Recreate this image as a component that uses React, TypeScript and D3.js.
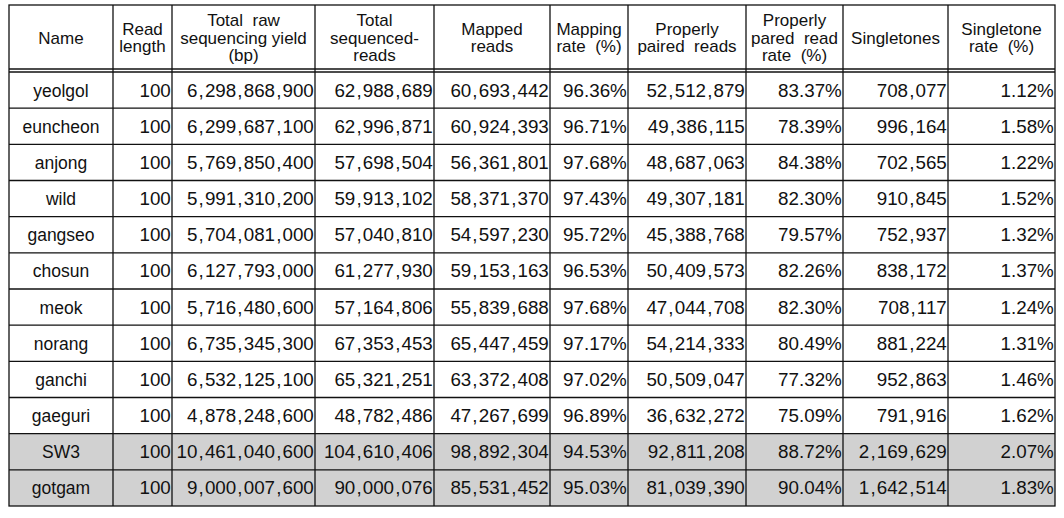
import React from "react";
import * as d3 from "d3";

const headers: string[][] = [
  ["Name"],
  ["Read", "length"],
  ["Total  raw", "sequencing yield", "(bp)"],
  ["Total", "sequenced-", "reads"],
  ["Mapped", "reads"],
  ["Mapping", "rate  (%)"],
  ["Properly", "paired  reads"],
  ["Properly", "pared  read", "rate  (%)"],
  ["Singletones"],
  ["Singletone", "rate  (%)"],
];

const names = ["yeolgol", "euncheon", "anjong", "wild", "gangseo", "chosun", "meok", "norang", "ganchi", "gaeguri", "SW3", "gotgam"];
const readLength = [100, 100, 100, 100, 100, 100, 100, 100, 100, 100, 100, 100];
const rawYield = [6298868900, 6299687100, 5769850400, 5991310200, 5704081000, 6127793000, 5716480600, 6735345300, 6532125100, 4878248600, 10461040600, 9000007600];
const totalReads = [62988689, 62996871, 57698504, 59913102, 57040810, 61277930, 57164806, 67353453, 65321251, 48782486, 104610406, 90000076];
const mappedReads = [60693442, 60924393, 56361801, 58371370, 54597230, 59153163, 55839688, 65447459, 63372408, 47267699, 98892304, 85531452];
const mappingRate = [96.36, 96.71, 97.68, 97.43, 95.72, 96.53, 97.68, 97.17, 97.02, 96.89, 94.53, 95.03];
const properlyPaired = [52512879, 49386115, 48687063, 49307181, 45388768, 50409573, 47044708, 54214333, 50509047, 36632272, 92811208, 81039390];
const properlyPairedRate = [83.37, 78.39, 84.38, 82.30, 79.57, 82.26, 82.30, 80.49, 77.32, 75.09, 88.72, 90.04];
const singletons = [708077, 996164, 702565, 910845, 752937, 838172, 708117, 881224, 952863, 791916, 2169629, 1642514];
const singletonRate = [1.12, 1.58, 1.22, 1.52, 1.32, 1.37, 1.24, 1.31, 1.46, 1.62, 2.07, 1.83];
const highlighted = ["SW3", "gotgam"];

const colEdges = [9, 113, 172, 315, 434, 550, 628, 746, 843, 948, 1055];
const TOP = 5;
const HEADER_BOTTOM = 69;
const BODY_TOP = 72;
const BOTTOM = 506;
const FONT = "'Liberation Sans', Arial, sans-serif";

const fmtInt = d3.format(",");
const fmtPct = (v: number) => d3.format(".2f")(v) + "%";

function NumText({ x, y, s }: { x: number; y: number; s: string }) {
  const parts: React.ReactNode[] = [];
  let buf = "";
  let pendingDx = 0;
  let key = 0;
  const flush = () => {
    if (buf) {
      parts.push(
        <tspan key={key++} dx={pendingDx || undefined}>
          {buf}
        </tspan>
      );
      buf = "";
      pendingDx = 0;
    }
  };
  for (const ch of s) {
    if (ch === ",") {
      flush();
      parts.push(
        <tspan key={key++} dx={1.1}>
          ,
        </tspan>
      );
      pendingDx = 1.1;
    } else {
      buf += ch;
    }
  }
  flush();
  return (
    <text x={x} y={y} textAnchor="end" fontFamily={FONT} fontSize={18.8} fill="#111">
      {parts}
    </text>
  );
}

export default function App() {
  const rowScale = d3.scaleBand<string>().domain(names).range([BODY_TOP, BOTTOM]);
  const bw = rowScale.bandwidth();
  const columns: string[][] = [
    names,
    readLength.map(String),
    rawYield.map(fmtInt),
    totalReads.map(fmtInt),
    mappedReads.map(fmtInt),
    mappingRate.map(fmtPct),
    properlyPaired.map(fmtInt),
    properlyPairedRate.map(fmtPct),
    singletons.map(fmtInt),
    singletonRate.map(fmtPct),
  ];
  const headerCenter = (TOP + HEADER_BOTTOM) / 2;
  const lineGap = 17.8;
  const stroke = "#111";

  return (
    <svg width={1064} height={518} style={{ position: "absolute", left: 0, top: 0, background: "#fff" }}>
      {names.map((n) =>
        highlighted.includes(n) ? (
          <rect key={"bg" + n} x={colEdges[0]} y={rowScale(n)!} width={colEdges[colEdges.length - 1] - colEdges[0]} height={bw} fill="#d1d1d1" />
        ) : null
      )}
      {headers.map((lines, ci) => {
        const cx = (colEdges[ci] + colEdges[ci + 1]) / 2;
        return lines.map((ln, li) => (
          <text
            key={"h" + ci + "-" + li}
            x={cx}
            y={headerCenter + 6.5 + (li - (lines.length - 1) / 2) * lineGap}
            textAnchor="middle"
            fontFamily={FONT}
            fontSize={17}
            fill="#111"
            style={{ whiteSpace: "pre" }}
          >
            {ln}
          </text>
        ));
      })}
      {names.map((n, ri) => {
        const y = rowScale(n)! + bw / 2 + 6.5;
        return (
          <g key={"r" + n}>
            {columns.map((col, ci) =>
              ci === 0 ? (
                <text key={ci} x={(colEdges[0] + colEdges[1]) / 2} y={y} textAnchor="middle" fontFamily={FONT} fontSize={17.5} fill="#111">
                  {col[ri]}
                </text>
              ) : (
                <NumText key={ci} x={colEdges[ci + 1] - 1.2} y={y} s={col[ri]} />
              )
            )}
          </g>
        );
      })}
      <g stroke={stroke} strokeWidth={1.3} fill="none">
        <rect x={colEdges[0]} y={TOP} width={colEdges[colEdges.length - 1] - colEdges[0]} height={BOTTOM - TOP} />
        {colEdges.slice(1, -1).map((x) => (
          <line key={"v" + x} x1={x} x2={x} y1={TOP} y2={BOTTOM} />
        ))}
        <line x1={colEdges[0]} x2={colEdges[colEdges.length - 1]} y1={HEADER_BOTTOM} y2={HEADER_BOTTOM} />
        <line x1={colEdges[0]} x2={colEdges[colEdges.length - 1]} y1={BODY_TOP} y2={BODY_TOP} />
        {names.slice(1).map((n) => (
          <line key={"hl" + n} x1={colEdges[0]} x2={colEdges[colEdges.length - 1]} y1={rowScale(n)!} y2={rowScale(n)!} />
        ))}
      </g>
    </svg>
  );
}
